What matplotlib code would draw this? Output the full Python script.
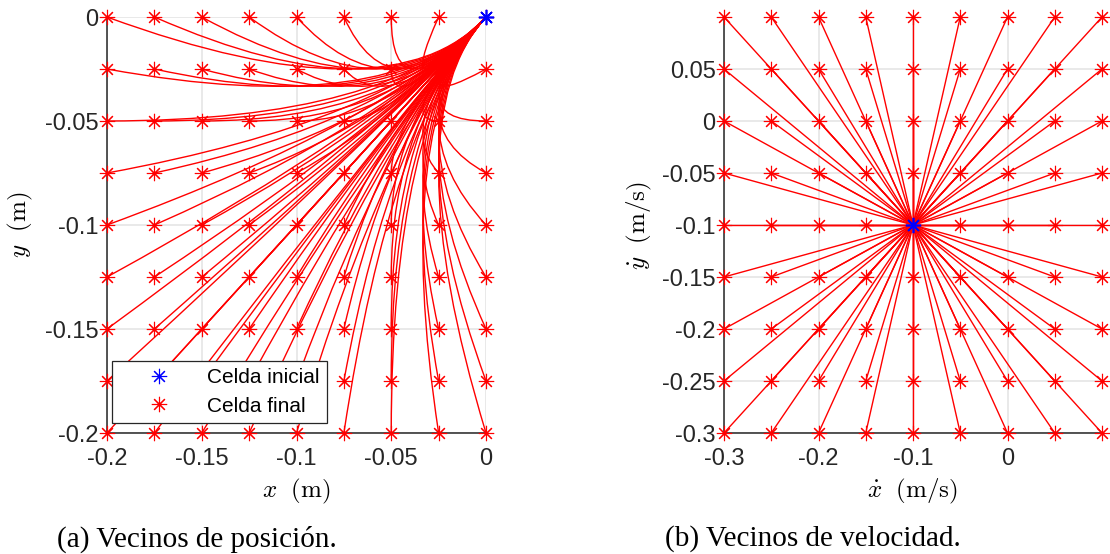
import numpy as np
import matplotlib
matplotlib.use("Agg")
import matplotlib.pyplot as plt
from matplotlib.path import Path
from matplotlib.patches import PathPatch
from matplotlib.lines import Line2D

# ---- data ----
# (a) position neighbours: final cells and initial cell / initial velocity
pos_x = [-0.2, -0.175, -0.15, -0.125, -0.1, -0.075, -0.05, -0.025, 0.0]
pos_y = [-0.2, -0.175, -0.15, -0.125, -0.1, -0.075, -0.05, -0.025, 0.0]
pos_start = (0.0, 0.0)
vel_start = (-0.1, -0.1)      # initial velocity (m/s)
T_step = 1.0                  # step duration (s)

# (b) velocity neighbours
vel_x = [-0.3, -0.25, -0.2, -0.15, -0.1, -0.05, 0.0, 0.05, 0.1]
vel_y = [-0.3, -0.25, -0.2, -0.15, -0.1, -0.05, 0.0, 0.05, 0.1]

pos_xticks = [-0.2, -0.15, -0.1, -0.05, 0]
pos_xticklabels = ['-0.2', '-0.15', '-0.1', '-0.05', '0']
pos_yticks = [-0.2, -0.15, -0.1, -0.05, 0]
pos_yticklabels = ['-0.2', '-0.15', '-0.1', '-0.05', '0']
vel_xticks = [-0.3, -0.2, -0.1, 0]
vel_xticklabels = ['-0.3', '-0.2', '-0.1', '0']
vel_yticks = [-0.3, -0.25, -0.2, -0.15, -0.1, -0.05, 0, 0.05]
vel_yticklabels = ['-0.3', '-0.25', '-0.2', '-0.15', '-0.1', '-0.05', '0', '0.05']

# ---- style ----
plt.rcParams['font.family'] = ['Liberation Sans', 'DejaVu Sans']
plt.rcParams['mathtext.fontset'] = 'cm'
RED = '#ff0000'
BLUE = '#0000ff'
GRID = '#e3e3e3'
AXC = '#262626'
STAR = (8, 2, 0)
MS = 11
MEW = 0.8
TICKFS = 17
LABFS = 18

fig = plt.figure(figsize=(11.10, 5.54), dpi=100)
axA = fig.add_axes([107/1110, 1-433/554, 379/1110, 416/554])
axB = fig.add_axes([724/1110, 1-433/554, 378/1110, 416/554])


def style(ax, xt, xtl, yt, ytl, xlim, ylim):
    ax.set_xlim(*xlim)
    ax.set_ylim(*ylim)
    ax.set_xticks(xt)
    ax.set_xticklabels(xtl)
    ax.set_yticks(yt)
    ax.set_yticklabels(ytl)
    ax.grid(True, color=GRID, lw=1.1, zorder=0)
    ax.set_axisbelow(True)
    for s in ['top', 'right']:
        ax.spines[s].set_visible(False)
    for s in ['left', 'bottom']:
        ax.spines[s].set_color(AXC)
        ax.spines[s].set_linewidth(1.1)
        ax.spines[s].set_zorder(1)
    ax.tick_params(direction='in', length=0, labelsize=TICKFS, colors=AXC)
    ax.tick_params(axis='x', pad=11)
    ax.tick_params(axis='y', pad=6)


# ---- (a) ----
style(axA, pos_xticks, pos_xticklabels, pos_yticks, pos_yticklabels,
      (-0.2, 0.0), (-0.2, 0.0))
ctrl = (pos_start[0] + vel_start[0] * T_step / 2, pos_start[1] + vel_start[1] * T_step / 2)
for yf in pos_y:
    for xf in pos_x:
        path = Path([pos_start, ctrl, (xf, yf)], [Path.MOVETO, Path.CURVE3, Path.CURVE3])
        axA.add_patch(PathPatch(path, fill=False, edgecolor=RED, lw=1.0, zorder=2))
GX, GY = np.meshgrid(pos_x, pos_y)
axA.plot(GX.ravel(), GY.ravel(), ls='none', marker=STAR, ms=MS, mew=MEW,
         color=RED, clip_on=False, zorder=3)
axA.plot([pos_start[0]], [pos_start[1]], ls='none', marker=STAR, ms=MS, mew=1.2,
         color=BLUE, clip_on=False, zorder=4)
axA.set_xlabel(r'$x\ \ (\mathrm{m})$', fontsize=LABFS, labelpad=5)
axA.set_ylabel(r'$y\ \ (\mathrm{m})$', fontsize=LABFS, labelpad=7)

handles = [Line2D([], [], ls='none', marker=STAR, ms=MS, mew=MEW, color=BLUE),
           Line2D([], [], ls='none', marker=STAR, ms=MS, mew=MEW, color=RED)]
leg = axA.legend(handles, ['Celda inicial', 'Celda final'], loc='lower left',
                 bbox_to_anchor=(5/379, 10/416), borderaxespad=0, fontsize=15,
                 frameon=True, fancybox=False, framealpha=1, edgecolor='#262626',
                 handlelength=3.8, handletextpad=0.4, borderpad=0.35, labelspacing=0.45)
leg.get_frame().set_linewidth(0.9)
leg.set_zorder(10)

# ---- (b) ----
style(axB, vel_xticks, vel_xticklabels, vel_yticks, vel_yticklabels,
      (-0.3, 0.1), (-0.3, 0.1))
for yf in vel_y:
    for xf in vel_x:
        axB.plot([vel_start[0], xf], [vel_start[1], yf], color=RED, lw=1.0, zorder=2)
VX, VY = np.meshgrid(vel_x, vel_y)
axB.plot(VX.ravel(), VY.ravel(), ls='none', marker=STAR, ms=MS, mew=MEW,
         color=RED, clip_on=False, zorder=3)
axB.plot([vel_start[0]], [vel_start[1]], ls='none', marker=STAR, ms=MS, mew=1.2,
         color=BLUE, clip_on=False, zorder=4)
axB.set_xlabel(r'$\dot{x}\ \ (\mathrm{m/s})$', fontsize=LABFS, labelpad=5)
axB.set_ylabel(r'$\dot{y}\ \ (\mathrm{m/s})$', fontsize=LABFS, labelpad=6)

# captions
fig.text(57/1110, 1-539/554, '(a) Vecinos de posición.', ha='left', va='center',
         fontsize=21, family=['Liberation Serif', 'DejaVu Serif'])
fig.text(665/1110, 1-539/554, '(b) Vecinos de velocidad.', ha='left', va='center',
         fontsize=21, family=['Liberation Serif', 'DejaVu Serif'])

fig.savefig('out.png', dpi=100)
